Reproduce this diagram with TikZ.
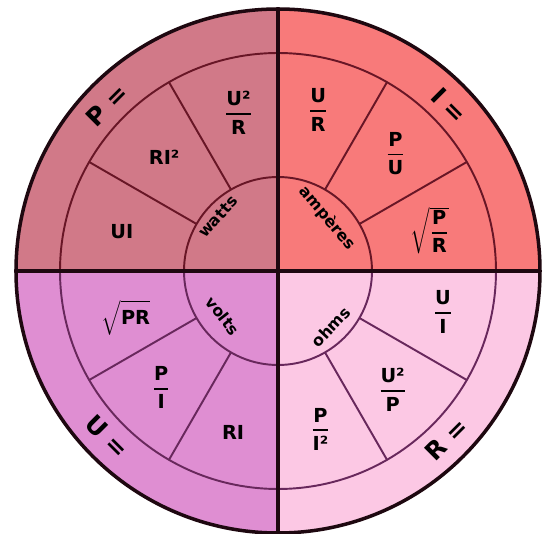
\documentclass[tikz,border=0pt]{standalone}
\usepackage{amsmath}
\usepackage{fontspec}
\setmainfont{DejaVu Sans}
\definecolor{quadP}{RGB}{209,121,136}
\definecolor{quadI}{RGB}{248,122,122}
\definecolor{quadU}{RGB}{223,142,210}
\definecolor{quadR}{RGB}{252,200,228}
\definecolor{lineTop}{RGB}{104,22,38}
\definecolor{lineBot}{RGB}{104,40,92}
\definecolor{rimCol}{RGB}{30,8,16}
\newcommand{\wfrac}[2]{\genfrac{}{}{1pt}{0}{\textbf{#1}}{\textbf{#2}}}

\begin{document}
\begin{tikzpicture}[x=0.02cm, y=0.02cm,
    ringtop/.style={draw=lineTop, line width=1.1pt},
    ringbot/.style={draw=lineBot, line width=1.1pt},
    crossline/.style={draw=rimCol, line width=2.2pt},
    formula/.style={font=\fontsize{11}{13}\selectfont\bfseries},
    unitlbl/.style={font=\fontsize{9}{11}\selectfont\bfseries},
    biglbl/.style={font=\fontsize{14}{16}\selectfont\bfseries}]
    % roue des formules
    \useasboundingbox (-278,-263) rectangle (264,271);
    \fill[quadP] (0,0) -- (90:262) arc (90:180:262) -- cycle;
    \fill[quadI] (0,0) -- (0:262) arc (0:90:262) -- cycle;
    \fill[quadU] (0,0) -- (180:262) arc (180:270:262) -- cycle;
    \fill[quadR] (0,0) -- (270:262) arc (270:360:262) -- cycle;

    % anneaux et secteurs
    \draw[ringtop] (0:218) arc (0:180:218); \draw[ringbot] (180:218) arc (180:360:218);
    \draw[ringtop] (0:94) arc (0:180:94); \draw[ringbot] (180:94) arc (180:360:94);
    \foreach \a in {30,60,120,150} \draw[ringtop] (\a:94) -- (\a:218);
    \foreach \a in {210,240,300,330} \draw[ringbot] (\a:94) -- (\a:218);
    \draw[crossline] (-262,0) -- (262,0); \draw[crossline] (0,-262) -- (0,262);
    \draw[draw=rimCol, line width=2pt] (0,0) circle (262);

    % P =
    \node[biglbl, rotate=45] (Peq) at (136:238) {P =};
    \node[unitlbl, rotate=48] (watts) at (138:81) {watts};
    \node[formula] (P1) at (104:163) {$\wfrac{U²}{R}$};
    \node[formula] (P2) at (135:161) {RI²};
    \node[formula] (P3) at (166:161) {UI};

    % I =
    \node[biglbl, rotate=-45] (Ieq) at (44:238) {I =};
    \node[unitlbl, rotate=-50] (amperes) at (47:72) {ampères};
    \node[formula] (I1) at (76:166) {$\wfrac{U}{R}$};
    \node[formula] (I2) at (45:166) {$\wfrac{P}{U}$};
    \node[formula] (I3) at (15:157) {$\sqrt{\wfrac{P}{R}}$};

    % U =
    \node[biglbl, rotate=-45] (Ueq) at (224:238) {U =};
    \node[unitlbl, rotate=-52] (volts) at (219:71) {volts};
    \node[formula] (U1) at (197:159) {$\sqrt{\rule[-4pt]{0pt}{15pt}\textbf{PR}}$};
    \node[formula] (U2) at (225:165) {$\wfrac{P}{I}$};
    \node[formula] (U3) at (254.5:168) {RI};

    % R =
    \node[biglbl, rotate=45] (Req) at (315:238) {R =};
    \node[unitlbl, rotate=47] (ohms) at (313.4:77) {ohms};
    \node[formula] (R1) at (346:170) {$\wfrac{U}{I}$};
    \node[formula] (R2) at (314:165) {$\wfrac{U²}{P}$};
    \node[formula] (R3) at (285:164) {$\wfrac{P}{I²}$};
\end{tikzpicture}
\end{document}
